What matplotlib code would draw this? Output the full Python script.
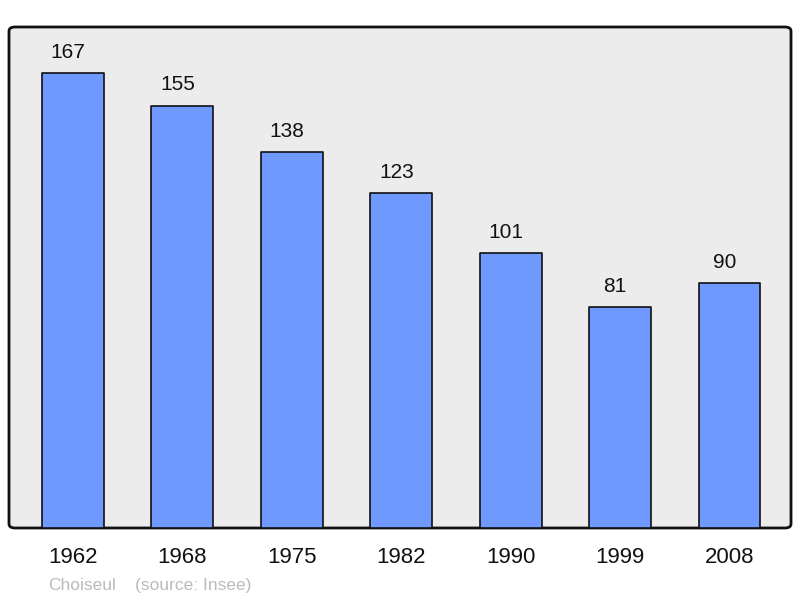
import matplotlib.pyplot as plt
from matplotlib.patches import FancyBboxPatch

plt.rcParams['font.family'] = ['Liberation Sans', 'DejaVu Sans']

years = ['1962', '1968', '1975', '1982', '1990', '1999', '2008']
population = [167, 155, 138, 123, 101, 81, 90]

fig = plt.figure(figsize=(8, 5.98), dpi=100)
ax = fig.add_axes([9 / 800, 70 / 598, 782 / 800, 501 / 598])
ax.set_xlim(-0.584, 6.562)
ax.set_ylim(0, 183.9)

# panel background with slightly rounded corners
ax.patch.set_visible(False)
for s in ax.spines.values():
    s.set_visible(False)
panel = FancyBboxPatch((0, 0), 1, 1, boxstyle='round,pad=0,rounding_size=0.008',
                       transform=ax.transAxes, facecolor='#ececec',
                       edgecolor='#111111', linewidth=2, zorder=0, clip_on=False)
ax.add_patch(panel)

x = list(range(len(years)))
bars = ax.bar(x, population, width=0.566, color='#7099ff', edgecolor='#111111',
              linewidth=1.2, zorder=2)
for b in bars:
    b.set_joinstyle('round')

# value labels sit a little left of the bar centre, like the original
for xi, v in zip(x, population):
    ax.annotate(str(v), (xi, v), xytext=(-3.5, 11), textcoords='offset points',
                ha='center', va='baseline', fontsize=15, color='#111111')

ax.set_xticks(x)
ax.set_xticklabels(years, fontsize=16, color='#111111')
ax.tick_params(axis='x', length=0, pad=14)
ax.set_yticks([])

fig.text(48 / 800, 1 - 590 / 598, 'Choiseul', fontsize=12.5, color='#bbbbbb',
         ha='left', va='baseline')
fig.text(135 / 800, 1 - 590 / 598, '(source: Insee)', fontsize=12.5, color='#bbbbbb',
         ha='left', va='baseline')

fig.savefig('out.png', dpi=100)
